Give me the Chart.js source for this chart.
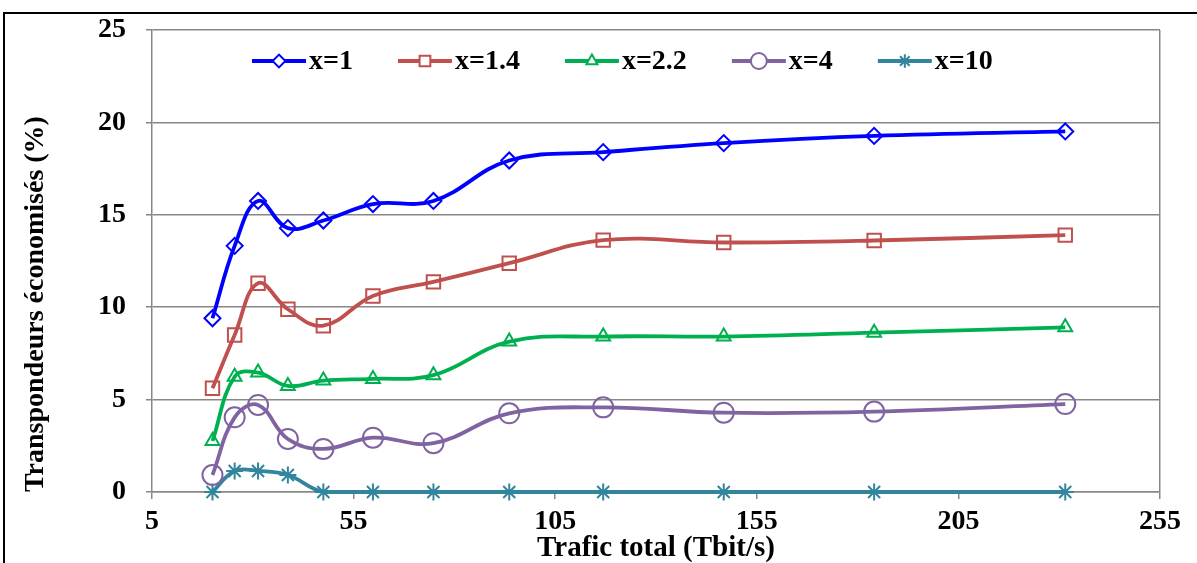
<!DOCTYPE html>
<html>
<head>
<meta charset="utf-8">
<script src="https://cdn.jsdelivr.net/npm/chart.js@4.4.1/dist/chart.umd.min.js"></script>
<style>
  html, body { margin: 0; padding: 0; background: #fff; overflow: hidden; }
  #frame { position: absolute; left: 3px; top: 12px; width: 1230px; height: 620px; border: 2px solid #000; }
  #wrap { position: absolute; left: 0; top: 0; width: 1197px; height: 563px; }
</style>
</head>
<body>
<div id="frame"></div>
<div id="wrap"><canvas id="chart"></canvas></div>
<script>
// Trafic total (Tbit/s)
const trafic = [20, 25.5, 31.3, 38.7, 47.5, 59.8, 74.8, 93.6, 116.9, 146.8, 184.1, 231.5];

// Transpondeurs économisés (%)
const seriesLabels = ["x=1", "x=1.4", "x=2.2", "x=4", "x=10"];
const x1   = [9.40, 13.32, 15.75, 14.28, 14.69, 15.58, 15.75, 17.94, 18.39, 18.88, 19.27, 19.51];
const x14  = [5.61, 8.50, 11.30, 9.89, 9.00, 10.61, 11.37, 12.38, 13.63, 13.50, 13.61, 13.90];
const x22  = [2.76, 6.24, 6.46, 5.74, 6.03, 6.12, 6.32, 8.14, 8.41, 8.41, 8.62, 8.91];
const x4   = [0.92, 4.04, 4.71, 2.87, 2.33, 2.94, 2.64, 4.26, 4.58, 4.29, 4.35, 4.76];
const x10  = [0, 1.14, 1.14, 0.92, 0, 0, 0, 0, 0, 0, 0, 0];

const xTicks = [5, 55, 105, 155, 205, 255];
const yTicks = [0, 5, 10, 15, 20, 25];

// styles
const colors  = ["#0000FF", "#C0504D", "#00B050", "#8064A2", "#31859C"];
const markers = ["rectRot", "rect", "triangle", "circle", "star"];
const radii   = [8, 9.5, 8, 10, 8.5];
const gray = "#878787";
const fontFam = "'Liberation Serif', 'Times New Roman', serif";

const allSeries = [x1, x14, x22, x4, x10];

const datasets = allSeries.map((vals, i) => ({
    label: seriesLabels[i],
    data: vals.map((v, j) => ({ x: trafic[j], y: v })),
    borderColor: colors[i],
    backgroundColor: "transparent",
    borderWidth: 3.8,
    tension: 0.4,
    pointStyle: markers[i],
    pointRadius: radii[i],
    pointBorderWidth: 2,
    pointBorderColor: colors[i],
    pointBackgroundColor: "transparent",
    clip: false
}));

// legend drawn inside the plot area, line + marker + label
const innerLegend = {
    id: "innerLegend",
    afterDraw(chart) {
        const ctx = chart.ctx;
        const y = 61;
        let x = 252;
        ctx.save();
        ctx.font = "bold 28px " + fontFam;
        ctx.textBaseline = "middle";
        ctx.textAlign = "left";
        chart.data.datasets.forEach(ds => {
            ctx.strokeStyle = ds.borderColor;
            ctx.lineWidth = ds.borderWidth;
            ctx.beginPath();
            ctx.moveTo(x, y);
            ctx.lineTo(x + 54, y);
            ctx.stroke();
            ctx.lineWidth = ds.pointBorderWidth;
            ctx.strokeStyle = ds.pointBorderColor;
            ctx.fillStyle = "#fff";
            if (Chart.helpers && Chart.helpers.drawPoint) {
                Chart.helpers.drawPoint(ctx, {
                    pointStyle: ds.pointStyle,
                    radius: ds.pointRadius * 0.8,
                    rotation: 0,
                    borderWidth: ds.pointBorderWidth
                }, x + 27, y);
            }
            ctx.fillStyle = "#000";
            ctx.fillText(ds.label, x + 57, y + 1);
            x += 57 + ctx.measureText(ds.label).width + 45;
        });
        ctx.restore();
    }
};

new Chart(document.getElementById("chart"), {
    type: "line",
    data: { datasets },
    plugins: [innerLegend],
    options: {
        responsive: true,
        maintainAspectRatio: false,
        animation: false,
        layout: { padding: { left: 14, top: 30, right: 37, bottom: 0 } },
        plugins: {
            legend: { display: false },
            tooltip: { enabled: false }
        },
        scales: {
            x: {
                type: "linear",
                min: 5,
                max: 255,
                afterBuildTicks: s => { s.ticks = xTicks.map(v => ({ value: v })); },
                afterFit: s => { s.height = 71; },
                grid: {
                    drawOnChartArea: true,
                    color: c => (c.tick && c.tick.value === 255 ? gray : "transparent"),
                    tickColor: gray,
                    tickLength: 7,
                    lineWidth: 1.5
                },
                border: { display: true, color: gray, width: 1.5 },
                ticks: {
                    color: "#000",
                    padding: 6,
                    maxRotation: 0,
                    font: { family: fontFam, size: 28, weight: "bold" }
                },
                title: {
                    display: true,
                    text: "Trafic total (Tbit/s)",
                    color: "#000",
                    padding: { top: 0, bottom: 0 },
                    font: { family: fontFam, size: 29, weight: "bold", lineHeight: 1.0 }
                }
            },
            y: {
                min: 0,
                max: 25,
                afterBuildTicks: s => { s.ticks = yTicks.map(v => ({ value: v })); },
                afterFit: s => {
                    s.width = 152 - 14;
                    s.paddingTop = 10;
                    s.paddingBottom = 10;
                },
                grid: {
                    color: gray,
                    lineWidth: 1.5,
                    tickLength: 6
                },
                border: { display: true, color: gray, width: 1.5 },
                ticks: {
                    color: "#000",
                    padding: 20,
                    font: { family: fontFam, size: 28, weight: "bold" }
                },
                title: {
                    display: true,
                    text: "Transpondeurs économisés (%)",
                    align: "start",
                    color: "#000",
                    padding: { top: 8, bottom: 0 },
                    font: { family: fontFam, size: 28, weight: "bold", lineHeight: 1.0 }
                }
            }
        }
    }
});
</script>
</body>
</html>
